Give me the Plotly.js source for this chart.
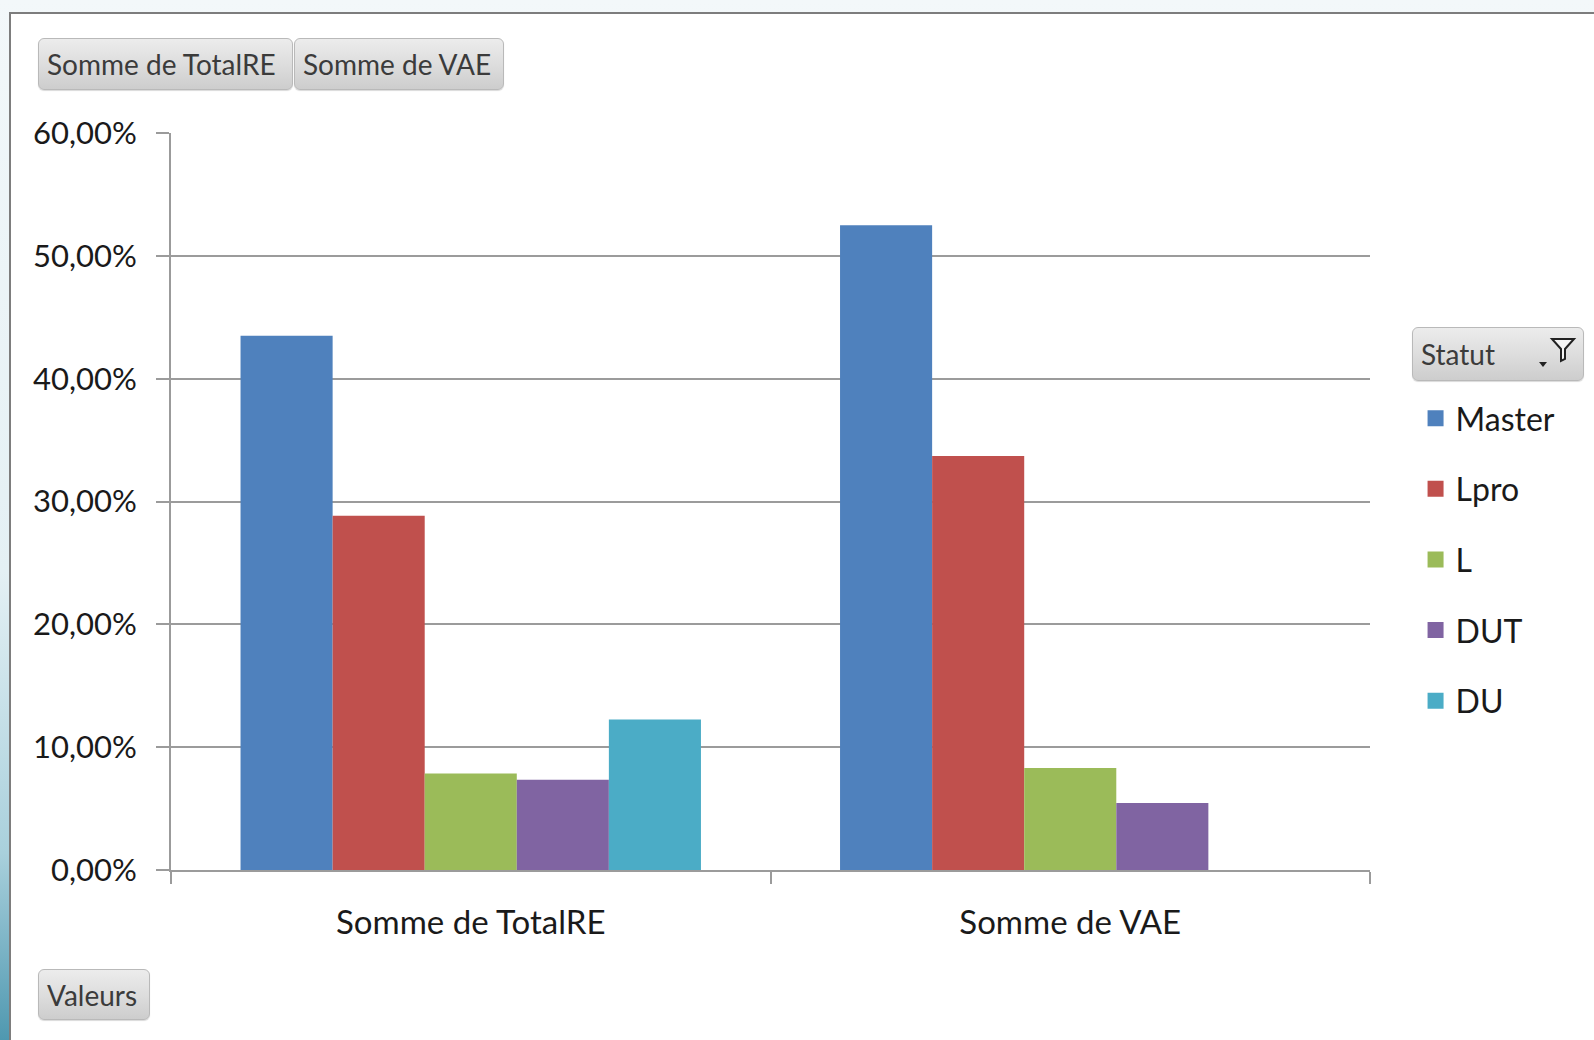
<!DOCTYPE html>
<html>
<head>
<meta charset="utf-8">
<script src="https://cdn.plot.ly/plotly-3.0.1.min.js"></script>
<style>
  html, body { margin:0; padding:0; width:1594px; height:1040px; overflow:hidden; }
  body { background: linear-gradient(to bottom, #f3f8fa 0%, #e4f0f4 55%, #a9d0dc 82%, #4f98b0 100%); position:relative; font-family: Lato, "Open Sans", sans-serif; }
  #panel { position:absolute; left:9px; top:12px; width:1600px; height:1040px; background:#ffffff;
           border-left:2px solid #7d7d7d; border-top:2px solid #7d7d7d; box-sizing:border-box; }
  #chart { position:absolute; left:0; top:0; width:1594px; height:1040px; }
  .btn { position:absolute; box-sizing:border-box; border:1px solid #b9b9b9; border-radius:6px;
         background: linear-gradient(to bottom, #ececec 0%, #dcdcdc 55%, #cdcdcd 100%);
         color:#3b3b3b; font-family: Lato, "Open Sans", sans-serif; font-size:28px; line-height:1;
         display:flex; align-items:center; padding-left:8px; white-space:nowrap;
         box-shadow: 0 1px 1px rgba(0,0,0,0.15); }
</style>
</head>
<body>
<div id="panel"></div>
<div id="chart"></div>
<div class="btn" style="left:38px;top:38px;width:255px;height:52px;">Somme de TotalRE</div>
<div class="btn" style="left:294px;top:38px;width:210px;height:52px;">Somme de VAE</div>
<div class="btn" style="left:1412px;top:327px;width:172px;height:54px;">Statut
  <svg width="40" height="34" viewBox="0 0 40 34" style="position:absolute;right:6px;top:8px;">
    <path d="M2 26 L10 26 L6 31 Z" fill="#222"/>
    <path d="M15 3 L37 3 L28 13 L28 23 L24 25 L24 13 Z" fill="#f4f4f4" stroke="#222" stroke-width="2"/>
  </svg>
</div>
<div class="btn" style="left:38px;top:969px;width:112px;height:51px;">Valeurs</div>
<script>
// ---- data ----
const categories = ["Somme de TotalRE", "Somme de VAE"];
const seriesNames = ["Master", "Lpro", "L", "DUT", "DU"];
const master = [43.5, 52.5];
const lpro   = [28.85, 33.7];
const lic    = [7.85, 8.3];
const dut    = [7.35, 5.45];
const du     = [12.25, null];
const seriesColors = ["#4F81BD", "#C0504D", "#9BBB59", "#8064A2", "#4BACC6"];
const yTickVals = [0, 10, 20, 30, 40, 50, 60];
const yTickLabels = ["0,00%", "10,00%", "20,00%", "30,00%", "40,00%", "50,00%", "60,00%"];

const seriesValues = [master, lpro, lic, dut, du];

const traces = [];
seriesValues.forEach(function (vals, i) {
  traces.push({
    type: "bar",
    x: categories,
    y: vals,
    name: seriesNames[i],
    marker: { color: seriesColors[i], line: { width: 0 } },
    showlegend: false,
    legendgroup: seriesNames[i],
    hoverinfo: "skip"
  });
});
// legend entries (bigger square symbols)
seriesValues.forEach(function (vals, i) {
  traces.push({
    type: "scatter",
    mode: "markers",
    x: [null],
    y: [null],
    name: seriesNames[i],
    legendgroup: seriesNames[i],
    marker: { symbol: "square", size: 20, color: seriesColors[i] },
    showlegend: true,
    hoverinfo: "skip"
  });
});

const gridCol = "#9b9b9b";
const layout = {
  width: 1594,
  height: 1040,
  margin: { l: 171, r: 224, t: 133, b: 170, pad: 0 },
  paper_bgcolor: "rgba(0,0,0,0)",
  plot_bgcolor: "rgba(0,0,0,0)",
  separators: ", ",
  font: { family: "Lato, 'Open Sans', sans-serif", color: "#1a1a1a", size: 30 },
  barmode: "group",
  bargap: 0.232,
  bargroupgap: 0,
  showlegend: true,
  legend: {
    x: 1.038, xanchor: "left",
    y: 0.650, yanchor: "top",
    traceorder: "grouped",
    tracegroupgap: 26,
    font: { size: 32, color: "#1a1a1a" },
    bgcolor: "rgba(0,0,0,0)",
    itemsizing: "trace"
  },
  xaxis: {
    type: "category",
    range: [-0.5, 1.5],
    showgrid: false,
    zeroline: false,
    showline: true,
    linecolor: gridCol,
    linewidth: 2,
    ticks: "outside",
    tickson: "boundaries",
    ticklen: 12,
    tickwidth: 2,
    tickcolor: gridCol,
    tickfont: { size: 33, color: "#1a1a1a" },
    ticklabelstandoff: 22,
    fixedrange: true
  },
  yaxis: {
    range: [0, 60],
    tickmode: "array",
    tickvals: yTickVals,
    ticktext: yTickLabels,
    showgrid: true,
    gridcolor: gridCol,
    gridwidth: 2,
    zeroline: false,
    showline: true,
    linecolor: gridCol,
    linewidth: 2,
    ticks: "outside",
    ticklen: 13,
    tickwidth: 2,
    tickcolor: gridCol,
    tickfont: { size: 31, color: "#1a1a1a" },
    ticklabelstandoff: 13,
    fixedrange: true
  }
};

Plotly.newPlot("chart", traces, layout, { displayModeBar: false, staticPlot: true });
</script>
</body>
</html>
